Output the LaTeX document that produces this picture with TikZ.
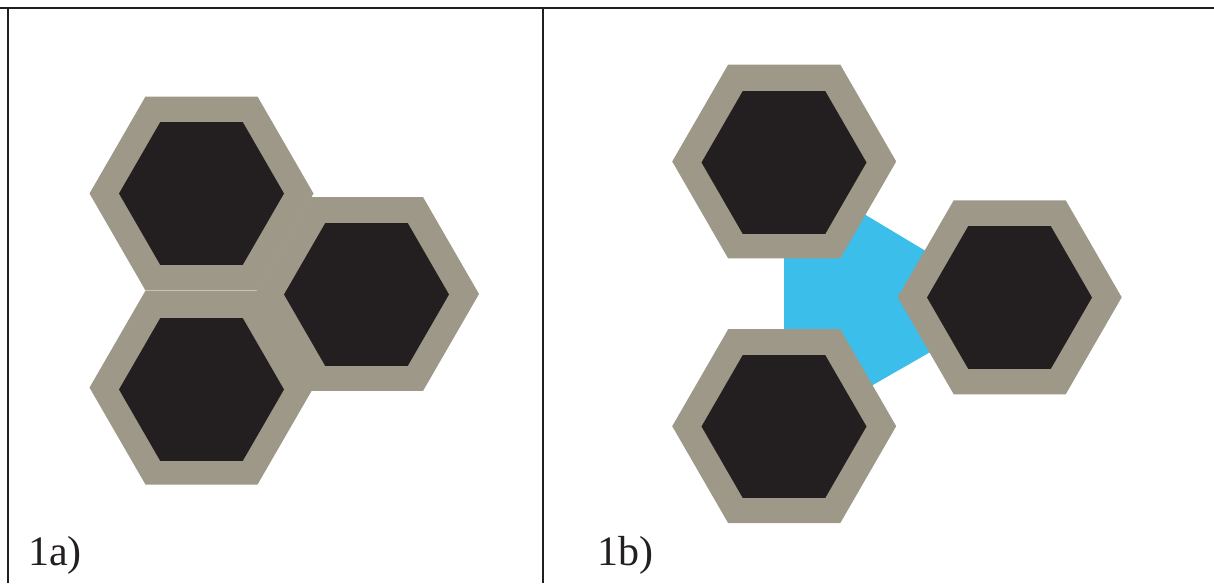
\documentclass[tikz,border=0pt]{standalone}
\usepackage{fontspec}
\setmainfont{Liberation Serif}
\usetikzlibrary{shapes.geometric}
\definecolor{hexgray}{RGB}{157,152,136}
\definecolor{hexblack}{RGB}{35,31,32}
\definecolor{linkblue}{RGB}{60,190,235}
\definecolor{framecol}{RGB}{35,31,32}
\tikzset{
  outerhex/.style={regular polygon, regular polygon sides=6, minimum size=224pt,
    inner sep=0pt, outer sep=0pt, fill=hexgray, draw=none},
  innerhex/.style={regular polygon, regular polygon sides=6, minimum size=165pt,
    inner sep=0pt, outer sep=0pt, fill=hexblack, draw=none},
  frameline/.style={draw=framecol, line width=2pt},
  panellabel/.style={anchor=base west, inner sep=0pt, font=\fontsize{42}{42}\selectfont, text=hexblack}
}
\begin{document}
\begin{tikzpicture}[x=1pt,y=-1pt]
\useasboundingbox (0,0) rectangle (1214,583);
% frame
\draw[frameline] (0,8.3) -- (1214,8.3);
\draw[frameline] (8.3,8.3) -- (8.3,583);
\draw[frameline] (543,8.3) -- (543,583);
% panel 1a
\node[outerhex] (aA) at (201.5,193.5) {};
\node[outerhex] (aB) at (201.5,387.6) {};
\node[outerhex] (aC) at (367,294) {};
\node[innerhex] (aAi) at (201.5,193.5) {};
\node[innerhex] (aBi) at (201.5,389.5) {};
\node[innerhex] (aCi) at (366.5,294.5) {};
% panel 1b
\fill[linkblue] (784,166) -- (784,436) -- (1014,304) -- cycle;
\node[outerhex] (bA) at (784.2,161.5) {};
\node[outerhex] (bB) at (784.2,426.2) {};
\node[outerhex] (bC) at (1009.7,297.3) {};
\node[innerhex] (bAi) at (784,162.5) {};
\node[innerhex] (bBi) at (784,426.5) {};
\node[innerhex] (bCi) at (1009.5,297.5) {};
% labels
\node[panellabel] (la) at (28,565) {1a)};
\node[panellabel] (lb) at (597,565) {1b)};
\end{tikzpicture}
\end{document}
